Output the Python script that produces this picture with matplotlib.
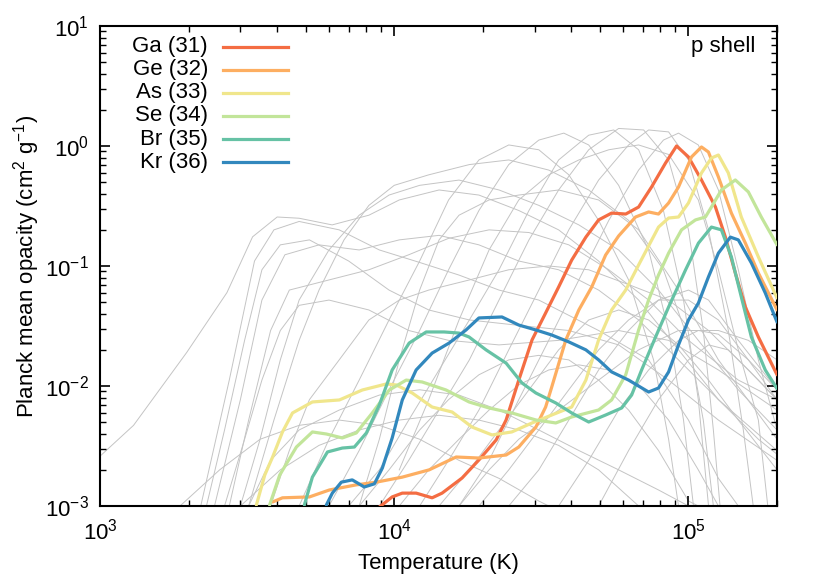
import matplotlib
matplotlib.use("Agg")
import matplotlib.pyplot as plt

plt.rcParams["font.family"] = ["Liberation Sans", "DejaVu Sans"]
plt.rcParams["mathtext.fontset"] = "custom"
plt.rcParams["mathtext.rm"] = "Liberation Sans"
plt.rcParams["mathtext.it"] = "Liberation Sans:italic"
plt.rcParams["mathtext.bf"] = "Liberation Sans:bold"

# --- p shell elements (Planck mean opacity, cm^2/g) ---
labels = ["Ga (31)", "Ge (32)", "As (33)", "Se (34)", "Br (35)", "Kr (36)"]
colors = ["#f46d43", "#fdae61", "#f0e68c", "#c2e59a", "#66c2a5", "#3288bd"]

ga_T = [8900, 9840, 10650, 11870, 13450, 14540, 17000, 19400, 22200, 24000, 26500, 29400, 32700,
        36200, 40100, 44800, 49500, 54800, 61200, 67700, 74900, 83600, 91100, 100000, 110700,
        123500, 133500, 144300, 156100, 172800, 200000]
ga_k = [0.00098, 0.00119, 0.00128, 0.00128, 0.00117, 0.00128, 0.00171, 0.00242, 0.00355, 0.00521,
        0.0112, 0.0242, 0.0406, 0.0668, 0.112, 0.174, 0.242, 0.276, 0.271, 0.310, 0.455, 0.722,
        1.0, 0.810, 0.521, 0.310, 0.174, 0.0874, 0.0455, 0.0256, 0.0124]

ge_T = [3860, 4170, 5150, 6020, 7430, 8690, 10650, 13140, 16230, 19400, 24000, 26500, 30300, 32700,
        34300, 38300, 42400, 46900, 52300, 57900, 66100, 73200, 79100, 85600, 92500, 102400,
        110700, 116900, 126400, 139900, 156100, 172800, 200000]
ge_k = [0.00108, 0.00117, 0.00119, 0.00136, 0.00150, 0.00158, 0.00174, 0.00200, 0.00256, 0.00251,
        0.00266, 0.00310, 0.00455, 0.00668, 0.00981, 0.0242, 0.0430, 0.0668, 0.1235, 0.178, 0.256,
        0.282, 0.271, 0.335, 0.455, 0.810, 0.981, 0.891, 0.552, 0.276, 0.155, 0.0874, 0.043]

as_T = [3400, 3630, 3860, 4170, 4510, 5270, 6510, 7790, 9400, 10160, 11510, 13450, 15730, 18380,
        21490, 25100, 29400, 34300, 40100, 44800, 49500, 54800, 61200, 67700, 79100, 85600, 92500,
        100000, 110700, 119700, 126400, 136600, 151200, 172800, 200000]
as_k = [0.00102, 0.00181, 0.00256, 0.00414, 0.00596, 0.00736, 0.00765, 0.00926, 0.0104, 0.0102,
        0.00874, 0.00668, 0.00607, 0.00455, 0.00391, 0.00414, 0.00492, 0.00573, 0.00668, 0.0112,
        0.0242, 0.0430, 0.0631, 0.102, 0.211, 0.251, 0.256, 0.335, 0.596, 0.794, 0.841, 0.596,
        0.256, 0.119, 0.054]

se_T = [3770, 4080, 4650, 5270, 5880, 6660, 7430, 8420, 9620, 10980, 12440, 15000, 17960, 21000,
        25100, 30300, 35400, 40100, 49500, 54800, 61200, 67700, 73200, 79100, 85600, 94700, 105600,
        114200, 119700, 129400, 144300, 159800, 176800, 200000]
se_k = [0.00102, 0.00181, 0.00310, 0.00414, 0.00398, 0.00369, 0.00406, 0.00596, 0.00926, 0.0112,
        0.0108, 0.00926, 0.00736, 0.00656, 0.00596, 0.00521, 0.00492, 0.00552, 0.00631, 0.00765,
        0.0124, 0.0293, 0.0521, 0.0841, 0.128, 0.200, 0.242, 0.256, 0.310, 0.430, 0.521, 0.414,
        0.256, 0.150]

br_T = [4950, 5270, 5930, 6660, 7320, 8040, 8900, 9840, 11240, 12840, 14770, 16610, 17960, 20510,
        24000, 27160, 30300, 35400, 40100, 45800, 52300, 59300, 64100, 69300, 77300, 85600, 97700,
        108100, 119700, 129400, 139900, 151200, 163600, 182400, 200000]
br_k = [0.00102, 0.00174, 0.00282, 0.00304, 0.00310, 0.00406, 0.00695, 0.0136, 0.0228, 0.0282,
        0.0282, 0.0276, 0.0256, 0.0200, 0.0155, 0.0106, 0.00874, 0.00722, 0.00596, 0.00501,
        0.00573, 0.00656, 0.00841, 0.0136, 0.0256, 0.0455, 0.0926, 0.155, 0.211, 0.200, 0.119,
        0.0552, 0.0256, 0.0136, 0.0095]

kr_T = [5880, 6160, 6610, 7200, 7910, 8560, 9110, 9840, 10650, 11870, 13450, 15360, 17540, 19400,
        23230, 26500, 30300, 34300, 39200, 44800, 49500, 54800, 62600, 73200, 79100, 85600, 92500,
        100000, 108100, 116900, 126400, 138800, 147700, 163600, 182400, 200000]
kr_k = [0.00102, 0.00128, 0.00158, 0.00165, 0.00144, 0.00153, 0.00207, 0.00369, 0.00765, 0.0136,
        0.0188, 0.0228, 0.0293, 0.0369, 0.0376, 0.0322, 0.0293, 0.0266, 0.0233, 0.0200, 0.0165,
        0.0131, 0.0112, 0.00891, 0.00962, 0.0131, 0.0220, 0.0355, 0.0492, 0.0810, 0.128, 0.174,
        0.165, 0.106, 0.0596, 0.0341]

series_T = [ga_T, ge_T, as_T, se_T, br_T, kr_T]
series_k = [ga_k, ge_k, as_k, se_k, br_k, kr_k]

# --- other elements, drawn in grey behind ---
grey_T = [
    [1000, 1300, 1970, 2700, 3300, 4000, 4750, 6150, 8200, 10400, 14200, 19400, 26500, 36200, 49500, 67700, 92500, 126400, 172800, 200000],
    [2200, 2750, 3350, 3900, 4750, 6500, 8900, 12200, 16600, 22700, 31000, 49500, 73200, 100000, 126400, 147700],
    [2450, 3000, 3550, 4250, 5550, 7600, 10400, 14200, 19400, 26500, 36200, 49500, 67700, 92500, 126400, 200000],
    [2750, 3200, 3800, 4400, 6000, 8200, 11200, 15300, 21000, 28700, 39200, 53600, 73200, 100000, 147700, 200000],
    [2300, 2650, 3100, 3550, 4100, 5150, 7000, 9600, 13100, 18000, 26500, 39200, 57900, 85600, 126400, 200000],
    [2650, 3100, 3550, 4100, 4750, 6000, 8200, 11200, 15300, 22700, 36200, 57900, 85600, 126400, 200000],
    [3000, 3500, 4100, 4750, 6000, 7600, 9600, 12200, 16600, 22700, 31000, 42400, 57900, 79100, 108000, 147700, 200000],
    [3200, 3900, 4750, 5550, 6750, 8200, 10000, 13100, 18000, 24500, 33500, 45800, 62600, 82200, 100000, 112300, 121500],
    [3800, 4400, 5150, 6500, 8200, 10400, 13100, 18000, 24500, 33500, 45800, 62600, 85600, 117000, 159800, 200000],
    [4750, 6000, 7600, 9600, 12200, 15300, 19400, 24500, 31000, 39200, 49500, 62600, 76100, 85600, 92500],
    [6000, 7600, 9600, 12200, 15300, 19400, 24500, 31000, 37700, 45800, 57900, 73200, 85600, 96200, 104000],
    [7000, 8900, 11200, 14200, 18000, 22700, 28700, 36200, 45800, 55700, 67700, 82200, 96200, 108000, 117000],
    [8900, 11200, 14200, 18000, 22700, 28700, 36200, 45800, 57900, 70400, 85600, 100000, 112300, 121500, 128000],
    [12200, 15300, 19400, 24500, 31000, 39200, 49500, 62600, 73200, 85600, 100000, 117000, 136600, 153600, 166000],
    [16600, 21000, 26500, 33500, 42400, 53600, 67700, 82200, 92500, 108000, 126400, 147700, 172800, 200000],
    [7600, 8900, 10400, 12200, 14200, 16600, 21000, 26500, 36200, 49500, 67700, 92500, 126400, 200000],
    [10400, 13100, 16600, 21000, 26500, 33500, 42400, 53600, 67700, 85600, 108000, 126400, 147700, 172800, 186000],
    [7600, 9600, 12200, 15300, 19400, 24500, 31000, 39200, 49500, 62600, 79100, 100000, 108000],
    [10400, 13100, 16600, 21000, 26500, 33500, 42400, 53600, 67700, 85600, 108000, 126400],
    [14200, 18000, 22700, 28700, 36200, 45800, 57900, 73200, 92500, 117000, 147700, 200000],
    [19400, 24500, 31000, 39200, 49500, 62600, 79100, 100000, 126400, 159800, 200000],
    [24500, 31000, 39200, 49500, 62600, 79100, 100000, 117000, 147700, 200000],
    [3200, 3800, 4750, 6500, 8900, 12200, 16600, 22700, 31000, 42400, 57900, 79100, 100000],
    [1870, 2550, 3500, 4750, 6500, 8900, 12200, 16600, 22700, 31000, 33500],
    [3000, 4100, 5550, 7600, 10400, 14200, 19400, 26500, 36200, 49500, 67700],
    [36200, 45800, 57900, 73200, 92500, 108000, 126400, 159800, 200000],
    [49500, 62600, 79100, 100000, 117000, 136600, 172800, 200000],
    [16600, 21000, 26500, 36200, 49500, 67700, 92500, 126400, 159800, 200000],
]
grey_k = [
    [0.0026, 0.0047, 0.019, 0.06, 0.175, 0.256, 0.25, 0.22, 0.265, 0.355, 0.43, 0.39, 0.29, 0.20, 0.11, 0.052, 0.020, 0.0077, 0.0036, 0.0027],
    [0.001, 0.0112, 0.11, 0.20, 0.235, 0.20, 0.136, 0.107, 0.084, 0.063, 0.052, 0.029, 0.0165, 0.0052, 0.0017, 0.001],
    [0.001, 0.0077, 0.052, 0.124, 0.15, 0.136, 0.165, 0.18, 0.15, 0.11, 0.093, 0.063, 0.0355, 0.0165, 0.0077, 0.0029],
    [0.001, 0.0052, 0.029, 0.063, 0.0765, 0.093, 0.124, 0.17, 0.20, 0.19, 0.15, 0.093, 0.052, 0.024, 0.0112, 0.0077],
    [0.001, 0.0043, 0.024, 0.093, 0.15, 0.165, 0.11, 0.063, 0.043, 0.0355, 0.032, 0.029, 0.022, 0.0112, 0.0052, 0.0024],
    [0.001, 0.0036, 0.0112, 0.029, 0.047, 0.052, 0.043, 0.029, 0.024, 0.022, 0.024, 0.029, 0.024, 0.0136, 0.0063],
    [0.001, 0.0036, 0.0165, 0.052, 0.136, 0.265, 0.39, 0.47, 0.52, 0.43, 0.32, 0.22, 0.136, 0.063, 0.024, 0.0093, 0.0043],
    [0.001, 0.0052, 0.024, 0.063, 0.165, 0.32, 0.47, 0.575, 0.70, 0.765, 0.63, 0.43, 0.24, 0.093, 0.024, 0.0052, 0.001],
    [0.001, 0.0029, 0.0077, 0.0165, 0.0355, 0.052, 0.063, 0.0765, 0.093, 0.10, 0.093, 0.07, 0.052, 0.029, 0.0136, 0.0077],
    [0.001, 0.0036, 0.0112, 0.0355, 0.11, 0.355, 0.765, 1.02, 0.93, 0.575, 0.24, 0.0765, 0.0165, 0.0036, 0.001],
    [0.001, 0.0029, 0.0093, 0.029, 0.093, 0.29, 0.70, 1.12, 1.28, 1.02, 0.47, 0.136, 0.029, 0.0052, 0.001],
    [0.001, 0.002, 0.0052, 0.0136, 0.0355, 0.093, 0.29, 0.765, 1.23, 1.36, 0.93, 0.29, 0.052, 0.0077, 0.001],
    [0.001, 0.0024, 0.0063, 0.0165, 0.052, 0.165, 0.43, 0.93, 1.4, 1.36, 0.765, 0.20, 0.029, 0.0043, 0.001],
    [0.001, 0.0024, 0.0063, 0.020, 0.063, 0.20, 0.52, 1.02, 1.36, 1.31, 0.765, 0.20, 0.029, 0.0043, 0.001],
    [0.001, 0.0024, 0.0077, 0.024, 0.0765, 0.24, 0.63, 1.12, 1.28, 1.02, 0.43, 0.093, 0.0165, 0.0043],
    [0.001, 0.0036, 0.0165, 0.063, 0.165, 0.265, 0.355, 0.39, 0.43, 0.355, 0.20, 0.063, 0.0165, 0.0036],
    [0.002, 0.0077, 0.0355, 0.136, 0.355, 0.575, 0.765, 0.93, 1.02, 0.85, 0.355, 0.093, 0.02, 0.0052, 0.001],
    [0.001, 0.002, 0.0043, 0.0077, 0.0124, 0.0165, 0.018, 0.0165, 0.0112, 0.0063, 0.0029, 0.0011, 0.001],
    [0.001, 0.002, 0.0036, 0.0063, 0.0102, 0.0136, 0.015, 0.0136, 0.0102, 0.0052, 0.002, 0.001],
    [0.001, 0.002, 0.0043, 0.0093, 0.020, 0.0355, 0.043, 0.0355, 0.022, 0.0112, 0.0052, 0.002],
    [0.001, 0.002, 0.0043, 0.0093, 0.020, 0.0355, 0.052, 0.052, 0.0355, 0.0165, 0.0077],
    [0.001, 0.002, 0.0052, 0.0136, 0.029, 0.052, 0.063, 0.052, 0.024, 0.0093],
    [0.001, 0.0024, 0.0043, 0.0063, 0.0084, 0.0093, 0.0084, 0.0063, 0.0043, 0.0029, 0.002, 0.00136, 0.001],
    [0.001, 0.002, 0.0036, 0.0047, 0.0052, 0.0047, 0.0036, 0.0024, 0.0017, 0.0011, 0.001],
    [0.001, 0.002, 0.0032, 0.0043, 0.0052, 0.0057, 0.0052, 0.0043, 0.0032, 0.002, 0.001],
    [0.001, 0.0024, 0.0063, 0.0136, 0.024, 0.029, 0.027, 0.0165, 0.0093],
    [0.001, 0.0029, 0.0077, 0.0165, 0.022, 0.020, 0.0112, 0.0077],
    [0.001, 0.002, 0.0036, 0.0063, 0.0112, 0.020, 0.029, 0.029, 0.024, 0.0165],
]

fig = plt.figure(figsize=(8.3, 5.8), dpi=100)
ax = fig.add_axes([0.1205, 0.1276, 0.8157, 0.8276])

for T, k in zip(grey_T, grey_k):
    ax.plot(T, k, color="#c4c4c4", lw=0.7, zorder=1)

for T, k, c in zip(series_T, series_k, colors):
    ax.plot(T, k, color=c, lw=2.3, zorder=3, solid_capstyle="round", solid_joinstyle="round")

ax.set_xscale("log")
ax.set_yscale("log")
ax.set_xlim(1e3, 2e5)
ax.set_ylim(1e-3, 1e1)

ax.set_xlabel("Temperature (K)", fontsize=16, labelpad=6)
ax.set_ylabel(r"Planck mean opacity (cm$^2$ g$^{-1}$)", fontsize=16, labelpad=2)

ax.tick_params(which="both", direction="in", top=True, right=True, labelsize=16)
ax.tick_params(which="major", length=7, width=1.2, pad=9)
ax.tick_params(which="minor", length=4, width=1.0)
ax.tick_params(axis="y", which="major", pad=8)
for s in ax.spines.values():
    s.set_linewidth(1.5)

# legend: labels right-aligned, sample line to the right
for i, (lab, c) in enumerate(zip(labels, colors)):
    yy = 0.9569 - i * 0.0481
    ax.text(0.1595, yy, lab, transform=ax.transAxes, ha="right", va="center", fontsize=16)
    ax.plot([0.1817, 0.2777], [yy, yy], transform=ax.transAxes, color=c, lw=2.3, zorder=4)

ax.text(0.9675, 0.958, "p shell", transform=ax.transAxes, ha="right", va="center", fontsize=16)

fig.savefig("out.png", dpi=100)
